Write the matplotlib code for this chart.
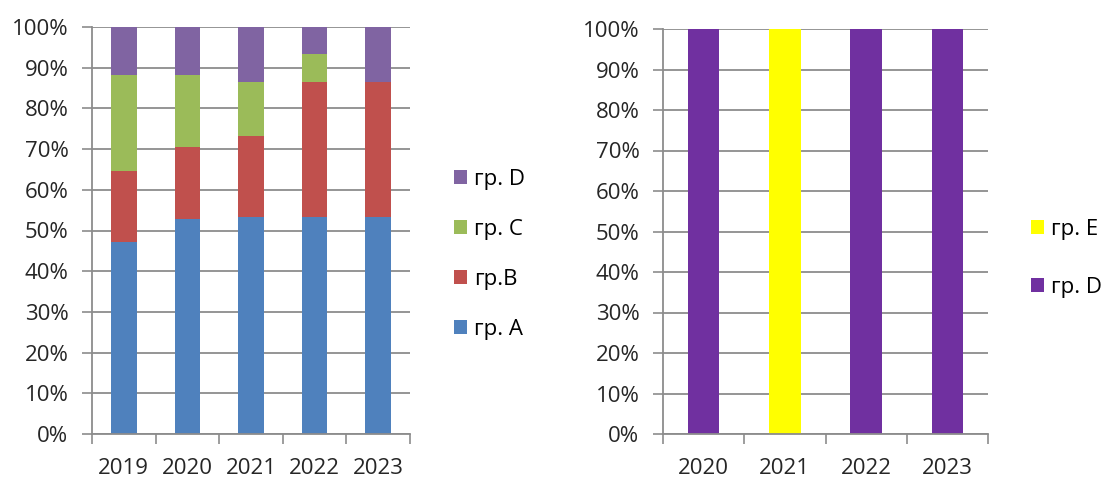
import matplotlib.pyplot as plt
import numpy as np

plt.rcParams['font.family'] = ['Open Sans', 'DejaVu Sans']

# доли групп по годам, %
years_left = ["2019", "2020", "2021", "2022", "2023"]
grp_a = [47.1, 52.9, 53.3, 53.3, 53.3]
grp_b = [17.6, 17.6, 20.0, 33.3, 33.3]
grp_c = [23.5, 17.6, 13.3, 6.7, 0.0]
grp_d = [11.8, 11.8, 13.3, 6.7, 13.3]

years_right = ["2020", "2021", "2022", "2023"]
grp_d_right = [100, 0, 100, 100]
grp_e_right = [0, 100, 0, 0]

GRID = "#8c8c8c"
FS = 16


def style_axis(ax, n):
    ax.set_xlim(0, n)
    ax.set_ylim(0, 100)
    ax.set_yticks(np.arange(0, 101, 10))
    ax.set_yticklabels([f"{v}%" for v in range(0, 101, 10)], fontsize=FS, color="#262626")
    ax.set_xticks(np.arange(0, n + 1))
    ax.set_xticklabels([])
    ax.set_xticks(np.arange(n) + 0.5, minor=True)
    ax.tick_params(axis="x", which="major", length=7, width=1.2, color=GRID, direction="out")
    ax.tick_params(axis="x", which="minor", length=0, pad=17, labelsize=FS, labelcolor="#262626")
    ax.tick_params(axis="y", length=7, width=1.2, color=GRID, pad=10)
    ax.grid(axis="y", color=GRID, linewidth=1.3)
    ax.set_axisbelow(True)
    for side in ("top", "right"):
        ax.spines[side].set_visible(False)
    for side in ("left", "bottom"):
        ax.spines[side].set_color(GRID)
        ax.spines[side].set_linewidth(1.3)


fig = plt.figure(figsize=(11.05, 4.79), dpi=100)

# левый график: четыре группы
ax1 = fig.add_axes([92 / 1105, 45 / 479, 318 / 1105, 407 / 479])
x = np.arange(len(years_left)) + 0.5
w = 0.4
bottom = np.zeros(len(years_left))
handles = []
for vals, color, label in [(grp_a, "#4f81bd", "гр. A"), (grp_b, "#c0504d", "гр.B"),
                           (grp_c, "#9bbb59", "гр. C"), (grp_d, "#8064a2", "гр. D")]:
    h = ax1.bar(x, vals, w, bottom=bottom, color=color, label=label, linewidth=0)
    bottom += np.array(vals)
    handles.append(h)
style_axis(ax1, len(years_left))
ax1.set_xticklabels(years_left, minor=True)
ax1.legend(handles[::-1], [h.get_label() for h in handles[::-1]], loc="upper left",
           bbox_to_anchor=(1.075, 0.7), frameon=False, fontsize=FS, handlelength=0.6,
           handleheight=0.6, handletextpad=0.3, labelspacing=1.3)

# правый график: группы D и E
ax2 = fig.add_axes([663 / 1105, 45 / 479, 325 / 1105, 405 / 479])
x2 = np.arange(len(years_right)) + 0.5
h_d = ax2.bar(x2, grp_d_right, 0.39, color="#7030a0", label="гр. D", linewidth=0)
h_e = ax2.bar(x2, grp_e_right, 0.39, bottom=grp_d_right, color="#ffff00", label="гр. E", linewidth=0)
style_axis(ax2, len(years_right))
ax2.set_xticklabels(years_right, minor=True)
ax2.legend([h_e, h_d], ["гр. E", "гр. D"], loc="upper left", bbox_to_anchor=(1.07, 0.58),
           frameon=False, fontsize=FS, handlelength=0.6, handleheight=0.6,
           handletextpad=0.3, labelspacing=1.65)

fig.savefig("out.png", dpi=100)
